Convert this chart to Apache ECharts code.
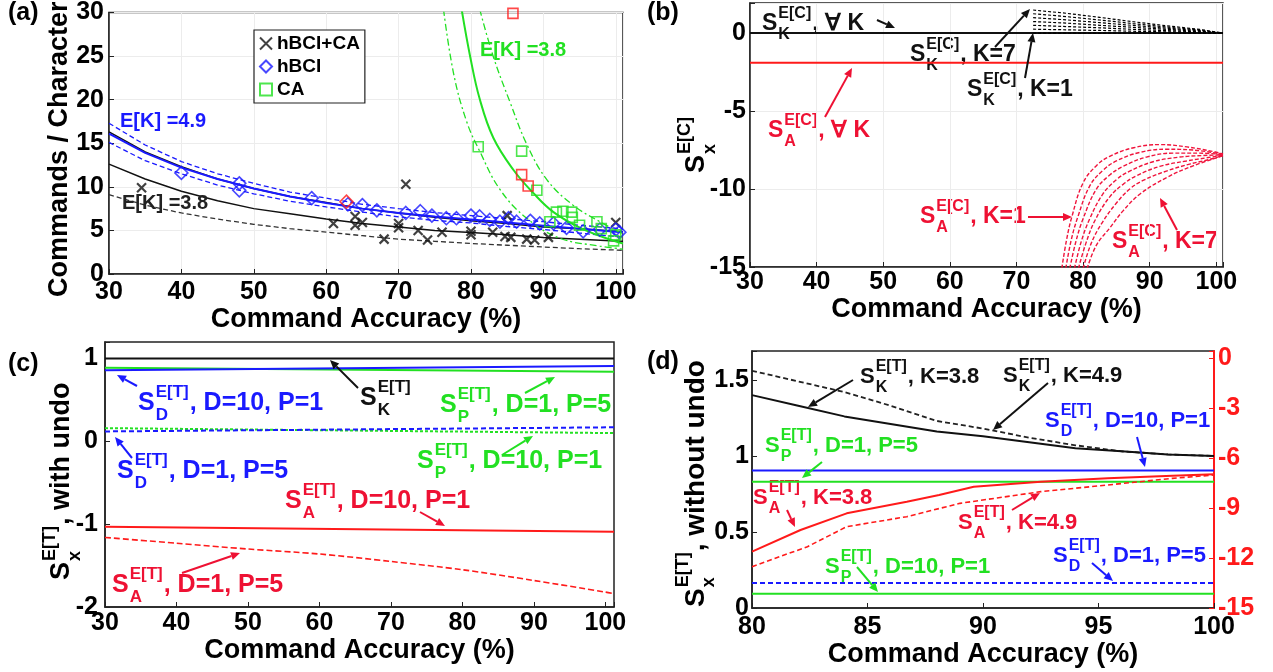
<!DOCTYPE html>
<html>
<head>
<meta charset="utf-8">
<script src="https://cdn.jsdelivr.net/npm/echarts@6/dist/echarts.min.js"></script>
<style>
html, body { margin: 0; background: #fff; }
#chart { width: 1273px; height: 672px; }
</style>
</head>
<body>
<div id="chart"></div>
<script>
// ---------- panel (a): commands per character ----------
var aX = [30, 35, 40, 45, 50, 55, 60, 65, 70, 75, 80, 85, 90, 95, 100, 101];
var aK49 = [16.3, 14.0, 12.3, 10.9, 9.8, 8.9, 8.2, 7.5, 7.0, 6.5, 6.1, 5.8, 5.4, 5.2, 4.9, 4.85];
var aK38 = [12.6, 10.9, 9.5, 8.4, 7.5, 6.9, 6.3, 5.8, 5.4, 5.0, 4.75, 4.5, 4.2, 4.0, 3.8, 3.75];
var aK38dash = [9.1, 7.9, 7.0, 6.3, 5.7, 5.2, 4.8, 4.4, 4.0, 3.75, 3.5, 3.3, 3.1, 2.9, 2.75, 2.72];
var aBlueFit = [16.1, 13.9, 12.2, 10.9, 9.8, 8.9, 8.15, 7.5, 7.0, 6.6, 6.25, 5.9, 5.55, 5.2, 4.85, 4.8];
var aBlueHi = [17.3, 14.8, 12.9, 11.5, 10.4, 9.4, 8.7, 8.0, 7.5, 7.05, 6.7, 6.35, 6.0, 5.6, 5.25, 5.2];
var aBlueLo = [15.1, 13.0, 11.5, 10.2, 9.2, 8.35, 7.7, 7.1, 6.55, 6.15, 5.85, 5.45, 5.1, 4.7, 4.3, 4.25];

var gFitX = [78.7, 79.9, 81.2, 83.1, 85.9, 88.6, 91.4, 95.1, 99.7, 101];
var gFitY = [30.4, 24.9, 20.1, 15.6, 11.9, 9.3, 7.1, 5.3, 3.8, 3.5];
var gLoX = [76.2, 77.6, 79.4, 81.2, 84.0, 87.7, 92.3, 97.8, 101];
var gLoY = [30.4, 23.0, 17.5, 14.1, 9.7, 6.4, 4.1, 3.2, 2.85];
var gHiX = [81.2, 83.1, 85.4, 87.7, 90.5, 94.1, 97.8, 101];
var gHiY = [30.4, 24.9, 19.7, 14.9, 10.8, 7.9, 6.0, 4.6];

var ptsHybrid = [[34.5, 9.9], [61, 5.8], [64, 6.6], [64, 5.6], [65, 5.9], [68, 4.0], [70, 5.8], [70, 5.3],
  [71, 10.3], [72.7, 5.0], [74, 3.9], [76, 4.8], [80, 4.5], [80, 4.9], [83, 4.8], [85, 6.7], [84.7, 4.3],
  [85.5, 4.2], [87.7, 4.0], [88.8, 3.9], [90.7, 4.2], [100, 5.9]];
var ptsHBCI = [[40, 11.6], [48, 10.4], [48, 9.6], [58, 8.7], [63, 8.0], [65, 7.9], [67, 7.3], [71, 7.0],
  [73, 7.2], [74.6, 6.7], [76.6, 6.4], [78, 6.4], [80, 6.7], [81.2, 6.6], [82.6, 6.2], [84, 6.0], [85.2, 6.4],
  [86.3, 6.0], [88.2, 6.1], [89.5, 5.8], [91.4, 5.8], [93.2, 5.3], [95.5, 4.9], [97.8, 5.1], [100, 5.1], [100.5, 4.8]];
var ptsCA = [[81, 14.6], [87, 14.1], [89.1, 9.6], [91.8, 7.1], [92.7, 7.2], [93.9, 7.1], [94, 6.5], [90.9, 6.0],
  [97.4, 6.0], [99.7, 3.8], [100, 4.5], [95, 5.6], [98, 5.2]];
var ptsRedSq = [[85.8, 29.9], [87, 11.4], [87.9, 10.1]];
var ptsRedDia = [[62.8, 8.3]];

// ---------- panel (b): S^E[C] ----------
var bX = [30, 101];
var bSK = [0, 0];
var bSA = [-1.9, -1.9];
var bFanX = [72.5, 77.5, 82.5, 87.5, 92.5, 97.5, 101];
var bSKfan = [
  [0, 0, 0, 0, 0, 0, 0],
  [0.25, 0.21, 0.17, 0.12, 0.08, 0.04, 0],
  [0.5, 0.42, 0.34, 0.24, 0.16, 0.08, 0],
  [0.74, 0.64, 0.5, 0.37, 0.24, 0.12, 0],
  [0.99, 0.85, 0.67, 0.49, 0.31, 0.16, 0],
  [1.24, 1.06, 0.84, 0.61, 0.39, 0.2, 0],
  [1.48, 1.27, 1.01, 0.73, 0.47, 0.24, 0]
];
var bSAfan = [
  [[76.8, -15.1], [77.5, -13.3], [78.3, -11.8], [80, -9.6], [82, -8.5], [84, -7.9], [87.6, -7.35], [91.6, -7.15], [95.6, -7.3], [99.6, -7.6], [101, -7.75]],
  [[77.4, -15.1], [78.2, -13.3], [79.2, -11.8], [81, -9.8], [83, -8.8], [85, -8.2], [88.5, -7.65], [92.5, -7.45], [96.5, -7.5], [101, -7.77]],
  [[78.0, -15.1], [78.9, -13.4], [80, -11.9], [82, -10.0], [84, -9.1], [86, -8.55], [89.5, -7.95], [93.5, -7.7], [97.5, -7.7], [101, -7.79]],
  [[78.7, -15.1], [79.7, -13.4], [81, -11.9], [83, -10.3], [85, -9.4], [87, -8.85], [90.5, -8.25], [94.5, -7.95], [98, -7.85], [101, -7.81]],
  [[79.3, -15.1], [80.4, -13.5], [81.8, -12.0], [84, -10.5], [86, -9.7], [88, -9.15], [91.5, -8.55], [95.5, -8.2], [98.5, -8.0], [101, -7.83]],
  [[80.0, -15.1], [81.2, -13.5], [82.8, -12.2], [85, -10.9], [87, -10.0], [89, -9.45], [92.5, -8.85], [96, -8.4], [99, -8.1], [101, -7.85]],
  [[80.6, -15.1], [82, -13.6], [84, -12.5], [86, -11.4], [88.6, -10.3], [92.6, -9.25], [96.6, -8.5], [101, -7.87]]
];

// ---------- panel (c): S^E[T] with undo ----------
var cX = [30, 101.2];
var cSK = [1, 1];
var cPd1 = [0.89, 0.84];
var cDd10 = [0.86, 0.91];
var cPd10 = [0.16, 0.10];
var cDd1 = [0.12, 0.17];
var cAd10 = [-1.03, -1.09];
var cAX = [30, 40, 50, 60, 70, 80, 90, 100, 101.2];
var cAd1 = [-1.16, -1.23, -1.30, -1.36, -1.45, -1.55, -1.68, -1.82, -1.84];

// ---------- panel (d): S^E[T] without undo ----------
var dX = [80, 82, 84, 86, 88, 90, 92, 94, 96, 98, 100];
var dSK49 = [1.56, 1.49, 1.42, 1.33, 1.23, 1.18, 1.12, 1.07, 1.03, 1.01, 1.0];
var dSK38 = [1.40, 1.33, 1.26, 1.21, 1.16, 1.13, 1.09, 1.05, 1.03, 1.01, 1.0];
var dFlatX = [80, 100];
var dDd10 = [0.905, 0.905];
var dPd1 = [0.83, 0.83];
var dDd1 = [0.165, 0.165];
var dPd10 = [0.093, 0.093];
var dA38X = [80, 82.1, 84.1, 86.7, 88.1, 89.6, 92.5, 95.4, 98.2, 100];
var dA38 = [-11.62, -10.32, -9.32, -8.62, -8.22, -7.72, -7.42, -7.22, -7.06, -6.98];
var dA49X = [80, 82.4, 84.1, 86.7, 89, 92.5, 95.4, 98.2, 100];
var dA49 = [-12.52, -11.32, -10.12, -9.52, -8.72, -8.02, -7.62, -7.22, -7.02];

// ---------- style ----------
var FF = '"Liberation Sans", Arial, sans-serif';
var BLK = '#111111', BLU = '#1a1aff', GRN = '#22e022', RED = '#ff1a1a', REDT = '#ee1133';
var XPATH = 'path://M0 0L10 10M10 0L0 10';

var ctx = document.createElement('canvas').getContext('2d');
function tw(s, size) { ctx.font = 'bold ' + size + 'px ' + FF; return ctx.measureText(s).width; }
function zip(xs, ys) { return xs.map(function (x, i) { return [x, ys[i]]; }); }

function ln(name, data, xi, yi, color, type, width, smooth) {
  return {
    type: 'line', name: name, xAxisIndex: xi, yAxisIndex: yi, data: data,
    symbol: 'none', silent: true, smooth: smooth || false, z: 3,
    lineStyle: { color: color, width: width || 1.5, type: type || 'solid' },
    itemStyle: { color: color }
  };
}
function sc(name, data, symbol, size, color, bw) {
  return {
    type: 'scatter', name: name, xAxisIndex: 0, yAxisIndex: 0, data: data,
    symbol: symbol, symbolSize: size, z: 5, silent: true,
    itemStyle: { color: 'transparent', borderColor: color, borderWidth: bw || 1.6 }
  };
}
function tf(step) {
  return function (v) {
    var r = v / step;
    return Math.abs(r - Math.round(r)) < 1e-6 ? String(+v.toFixed(2)) : '';
  };
}
function xAx(gi, min, max, step, margin, gap, grid) {
  return {
    type: 'value', gridIndex: gi, min: min, max: max, interval: step,
    name: 'Command Accuracy (%)', nameLocation: 'middle', nameGap: gap,
    nameTextStyle: { fontSize: 27, fontWeight: 'bold', fontFamily: FF, color: '#000' },
    axisLine: { show: true, onZero: false, lineStyle: { color: '#222', width: 1.5 } },
    axisTick: { inside: true, length: 5, lineStyle: { color: '#222' } },
    axisLabel: { margin: margin, fontSize: 25, fontWeight: 'bold', fontFamily: FF, color: '#000', formatter: tf(step) },
    splitLine: { show: !!grid, lineStyle: { color: '#ececec' } }
  };
}
function yAx(gi, min, max, step, margin, grid) {
  return {
    type: 'value', gridIndex: gi, min: min, max: max, interval: step,
    axisLine: { show: true, onZero: false, lineStyle: { color: '#222', width: 1.5 } },
    axisTick: { inside: true, length: 5, lineStyle: { color: '#222' } },
    axisLabel: { margin: margin, fontSize: 25, fontWeight: 'bold', fontFamily: FF, color: '#000', formatter: tf(step) },
    splitLine: { show: !!grid, lineStyle: { color: '#ececec' } }
  };
}

// text helpers (annotation text and arrows placed in pixels)
function txt(s, x, y, size, color, rot) {
  return { type: 'text', x: x, y: y, rotation: rot || 0, z: 100,
    style: { text: s, fontSize: size, fontWeight: 'bold', fontFamily: FF, fill: color, verticalAlign: 'middle', align: 'left' } };
}
function sym(x, y, sup, sub, rest, color, big, small, rot) {
  big = big || 25; small = small || 17;
  var off = tw('S', big) + 1;
  var w2 = Math.max(tw(sup, small), tw(sub, small));
  function st(t, s) { return { text: t, fontSize: s, fontWeight: 'bold', fontFamily: FF, fill: color, verticalAlign: 'middle', align: 'left' }; }
  var ch = [
    { type: 'text', x: 0, y: 0, style: st('S', big) },
    { type: 'text', x: off, y: -Math.round(big * 0.45), style: st(sup, small) },
    { type: 'text', x: off, y: Math.round(big * 0.48), style: st(sub, small) }
  ];
  if (rest) ch.push({ type: 'text', x: off + w2 + 1, y: 0, style: st(rest, big) });
  return { type: 'group', x: x, y: y, rotation: rot || 0, z: 100, children: ch };
}
function arrow(x1, y1, x2, y2, color) {
  var a = Math.atan2(y2 - y1, x2 - x1), L = 9, W = 4;
  var bx = x2 - L * Math.cos(a), by = y2 - L * Math.sin(a);
  return [
    { type: 'line', z: 100, shape: { x1: x1, y1: y1, x2: bx, y2: by }, style: { stroke: color, lineWidth: 2 } },
    { type: 'polygon', z: 100, shape: { points: [[x2, y2], [bx - W * Math.sin(a), by + W * Math.cos(a)], [bx + W * Math.sin(a), by - W * Math.cos(a)]] }, style: { fill: color } }
  ];
}

var R = Math.PI / 2;
var G = [
  txt('(a)', 8, 13, 25, '#000'), txt('(b)', 647, 13, 25, '#000'),
  txt('(c)', 8, 364, 25, '#000'), txt('(d)', 647, 362, 25, '#000'),
  txt('Commands / Character', 60, 297, 27, '#000', R),
  txt('E[K] =4.9', 120, 121, 20, BLU), txt('E[K] =3.8', 122, 203, 20, '#222'), txt('E[K] =3.8', 480, 50, 20, GRN),
  // (b)
  sym(697, 173, 'E[C]', 'x', '', '#000', 27, 18, R),
  sym(762, 24, 'E[C]', 'K', ', \u2200 K', BLK, 23, 16),
  sym(910, 55, 'E[C]', 'K', ', K=7', BLK, 23, 16),
  sym(967, 90, 'E[C]', 'K', ', K=1', BLK, 23, 16),
  sym(768, 131, 'E[C]', 'A', ', \u2200 K', REDT, 23, 16),
  sym(920, 217, 'E[C]', 'A', ', K=1', REDT, 23, 16),
  sym(1112, 242, 'E[C]', 'A', ', K=7', REDT, 23, 16),
  // (c)
  sym(62, 580, 'E[T]', 'x', ', with undo', '#000', 27, 18, R),
  sym(138, 403, 'E[T]', 'D', ', D=10, P=1', BLU),
  sym(117, 471, 'E[T]', 'D', ', D=1, P=5', BLU),
  sym(285, 501, 'E[T]', 'A', ', D=10, P=1', REDT),
  sym(112, 585, 'E[T]', 'A', ', D=1, P=5', REDT),
  sym(360, 398, 'E[T]', 'K', '', BLK),
  sym(440, 405, 'E[T]', 'P', ', D=1, P=5', GRN),
  sym(417, 461, 'E[T]', 'P', ', D=10, P=1', GRN),
  // (d)
  sym(696, 607, 'E[T]', 'x', ', without undo', '#000', 28, 18, R),
  sym(860, 377, 'E[T]', 'K', ', K=3.8', BLK, 22, 16),
  sym(1003, 376, 'E[T]', 'K', ', K=4.9', BLK, 22, 16),
  sym(1045, 421, 'E[T]', 'D', ', D=10, P=1', BLU, 22, 16),
  sym(765, 446, 'E[T]', 'P', ', D=1, P=5', GRN, 22, 16),
  sym(753, 498, 'E[T]', 'A', ', K=3.8', REDT, 22, 16),
  sym(958, 523, 'E[T]', 'A', ', K=4.9', REDT, 22, 16),
  sym(825, 567, 'E[T]', 'P', ', D=10, P=1', GRN, 22, 16),
  sym(1053, 556, 'E[T]', 'D', ', D=1, P=5', BLU, 22, 16)
];
[
  [877, 20, 895, 28, BLK], [995, 47, 1030, 9, BLK], [1025, 78, 1033, 33, BLK],
  [825, 117, 852, 68, REDT], [1028, 217, 1072, 217, REDT], [1177, 230, 1160, 198, REDT],
  [137, 386, 117, 375, BLU], [132, 458, 115, 437, BLU], [420, 512, 445, 526, REDT],
  [182, 573, 240, 553, REDT], [358, 388, 330, 360, BLK], [525, 393, 555, 377, GRN], [502, 455, 533, 436, GRN],
  [853, 380, 808, 407, BLK], [1048, 383, 993, 430, BLK], [1137, 437, 1145, 467, BLU],
  [822, 462, 802, 478, GRN], [787, 510, 795, 527, REDT], [1012, 510, 1040, 493, REDT],
  [857, 567, 878, 592, GRN], [1092, 563, 1113, 581, BLU]
].forEach(function (a) { G = G.concat(arrow(a[0], a[1], a[2], a[3], a[4])); });

// ---------- series ----------
var series = [
  ln('aK49', zip(aX, aK49), 0, 0, BLK, 'solid', 1.5),
  ln('aK38', zip(aX, aK38), 0, 0, BLK, 'solid', 1.5),
  ln('aK38d', zip(aX, aK38dash), 0, 0, '#333', [5, 3], 1.3),
  ln('aBhi', zip(aX, aBlueHi), 0, 0, BLU, [5, 3], 1.3),
  ln('aBlo', zip(aX, aBlueLo), 0, 0, BLU, [5, 3], 1.3),
  ln('aBfit', zip(aX, aBlueFit), 0, 0, BLU, 'solid', 2),
  ln('gLo', zip(gLoX, gLoY), 0, 0, GRN, [7, 3, 2, 3], 1.3, 0.4),
  ln('gHi', zip(gHiX, gHiY), 0, 0, GRN, [7, 3, 2, 3], 1.3, 0.4),
  ln('gFit', zip(gFitX, gFitY), 0, 0, GRN, 'solid', 2, 0.4),
  sc('hBCI+CA', ptsHybrid, XPATH, 9, BLK, 2.2),
  sc('hBCI', ptsHBCI, 'diamond', 13, BLU),
  sc('CA', ptsCA, 'rect', 10, GRN),
  sc('redSq', ptsRedSq, 'rect', 10, RED),
  sc('redDia', ptsRedDia, 'diamond', 13, RED),
  // (b)
  ln('bSK', zip(bX, bSK), 1, 1, BLK, 'solid', 2),
  ln('bSA', zip(bX, bSA), 1, 1, RED, 'solid', 2)
];
bSKfan.forEach(function (ys, i) { series.push(ln('bSKfan' + i, zip(bFanX, ys), 1, 1, '#000', [3, 2], 1.2)); });
bSAfan.forEach(function (pts, i) { series.push(ln('bSAfan' + i, pts, 1, 1, '#f0143c', [4, 2], 1.4, 0.4)); });
series = series.concat([
  ln('cSK', zip(cX, cSK), 2, 2, BLK, 'solid', 2),
  ln('cPd1', zip(cX, cPd1), 2, 2, GRN, 'solid', 2),
  ln('cDd10', zip(cX, cDd10), 2, 2, BLU, 'solid', 2),
  ln('cPd10', zip(cX, cPd10), 2, 2, GRN, [3, 2], 2),
  ln('cDd1', zip(cX, cDd1), 2, 2, BLU, [5, 3], 2),
  ln('cAd10', zip(cX, cAd10), 2, 2, RED, 'solid', 2),
  ln('cAd1', zip(cAX, cAd1), 2, 2, RED, [6, 3], 1.6, 0.3),
  ln('dSK49', zip(dX, dSK49), 3, 3, '#222', [5, 3], 1.8),
  ln('dSK38', zip(dX, dSK38), 3, 3, BLK, 'solid', 2),
  ln('dDd10', zip(dFlatX, dDd10), 3, 3, BLU, 'solid', 2),
  ln('dPd1', zip(dFlatX, dPd1), 3, 3, GRN, 'solid', 2),
  ln('dDd1', zip(dFlatX, dDd1), 3, 3, BLU, [5, 3], 2),
  ln('dPd10', zip(dFlatX, dPd10), 3, 3, GRN, 'solid', 2),
  ln('dA38', zip(dA38X, dA38), 3, 4, RED, 'solid', 2),
  ln('dA49', zip(dA49X, dA49), 3, 4, RED, [5, 3], 1.6)
]);

var yRight = yAx(3, -15, 0.42, 3, 4, false);
yRight.position = 'right';
yRight.axisLine.lineStyle = { color: RED, width: 2 };
yRight.axisTick.lineStyle = { color: RED };
yRight.axisLabel.color = RED;

var chart = echarts.init(document.getElementById('chart'));
chart.setOption({
  animation: false,
  backgroundColor: '#fff',
  grid: [
    { left: 109, top: 4, width: 514, height: 270 },
    { left: 750, top: 3, width: 473, height: 264 },
    { left: 105, top: 342, width: 509, height: 265 },
    { left: 752, top: 351, width: 462, height: 257 }
  ].map(function (g) { g.show = true; g.borderColor = '#222'; g.borderWidth = 1.5; return g; }),
  xAxis: [
    xAx(0, 30, 101, 10, 6, 18, true),
    xAx(1, 30, 101, 10, 3, 14, true),
    xAx(2, 30, 101.2, 10, 4, 27, false),
    xAx(3, 80, 100, 5, 7, 27, false)
  ],
  yAxis: [
    yAx(0, 0, 30, 5, 5, true),
    yAx(1, -15, 1.93, 5, 4, true),
    yAx(2, -2, 1.2, 1, 7, false),
    yAx(3, 0, 1.69, 0.5, 3, false),
    yRight
  ],
  legend: {
    data: [{ name: 'hBCI+CA', icon: XPATH }, { name: 'hBCI', icon: 'diamond' }, { name: 'CA', icon: 'rect' }],
    orient: 'vertical', left: 254, top: 30, itemWidth: 12, itemHeight: 12, itemGap: 4,
    padding: [4, 5, 4, 5], backgroundColor: '#fff', borderColor: '#222', borderWidth: 1.2,
    selectedMode: false,
    textStyle: { fontSize: 19, fontWeight: 'bold', fontFamily: FF, color: '#000' }
  },
  series: series,
  graphic: { elements: G }
});
</script>
</body>
</html>
